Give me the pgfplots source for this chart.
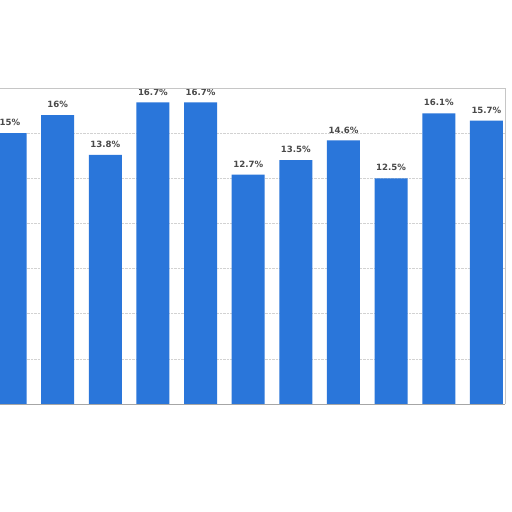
\documentclass[border=0pt]{standalone}
\usepackage{fontspec}
\setmainfont{DejaVu Sans}
\usepackage{pgfplots}
\pgfplotsset{compat=1.18}
\definecolor{barblue}{HTML}{2A76DA}
\definecolor{labgray}{HTML}{4A4A4A}
\definecolor{gridgray}{HTML}{D2D2D2}

\begin{document}
\begin{tikzpicture}[x=1pt,y=1pt]
	\useasboundingbox[fill=white] (0,0) rectangle (512,512);
	\begin{axis}[
		at = {(0pt,108pt)},
		anchor = south west,
		scale only axis,
		width = 505pt,
		height = 316pt,
		ybar,
		bar width = 33pt,
		xmin = -0.21, xmax = 10.39,
		ymin = 0, ymax = 17.5,
		ytick = {0,2.5,...,17.5},
		yticklabels = {},
		xtick = \empty,
		major tick length = 0pt,
		ymajorgrids = true,
		grid style = {gridgray, densely dotted, line width=0.6pt},
		axis line style = {draw=none},
		nodes near coords = {\pgfmathprintnumber{\pgfplotspointmeta}\%},
		every node near coord/.append style = {
			font=\fontsize{8.6}{10}\selectfont\bfseries,
			text=labgray, anchor=south, inner sep=0pt, yshift=7pt,
			/pgf/number format/assume math mode=true},
		clip mode = individual,
	]
	\addplot[draw=none, fill=barblue] coordinates {
		(0,15) (1,16) (2,13.8) (3,16.7) (4,16.7) (5,12.7)
		(6,13.5) (7,14.6) (8,12.5) (9,16.1) (10,15.7)};
	\draw[gray!45, line width=0.8pt] (rel axis cs:0,1) -- (rel axis cs:1,1) -- (rel axis cs:1,0);
	\draw[gray!70, line width=1pt] (rel axis cs:0,0) -- (rel axis cs:1,0);
	\end{axis}
\end{tikzpicture}
\end{document}
